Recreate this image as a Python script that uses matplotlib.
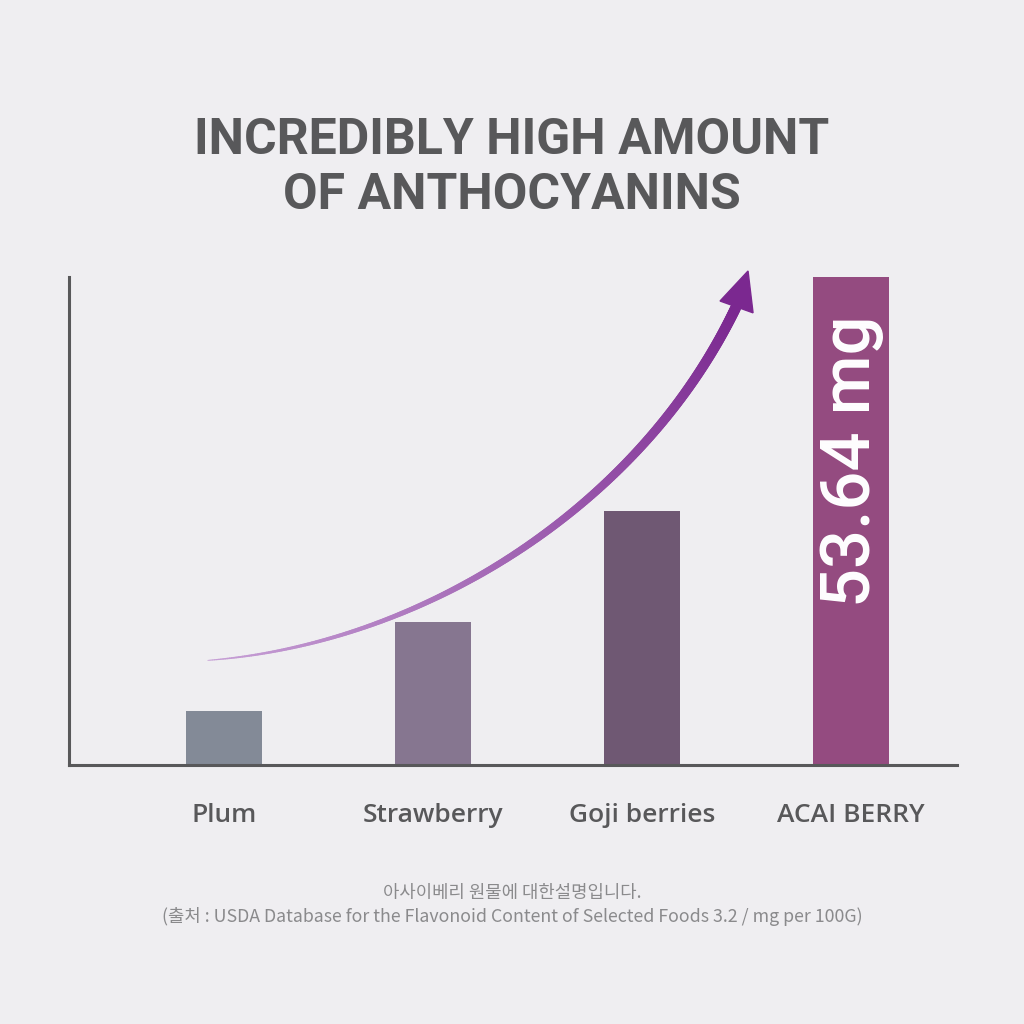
import numpy as np
import matplotlib.pyplot as plt
from matplotlib import font_manager
from matplotlib.collections import LineCollection
from matplotlib.patches import Polygon
from matplotlib.colors import to_rgb

foods = ['Plum', 'Strawberry', 'Goji berries', 'ACAI BERRY']
anthocyanins = [5.9, 15.7, 27.9, 53.64]
bar_colors = ['#838a97', '#867690', '#6f5873', '#944b80']
value_label = '53.64 mg'
title = 'INCREDIBLY HIGH AMOUNT\nOF ANTHOCYANINS'
note_ko = '아사이베리 원물에 대한설명입니다.'
note_src = '(출처 : USDA Database for the Flavonoid Content of Selected Foods 3.2 / mg per 100G)'

# growth arrow, in data units (x = bar index, y = mg)
arrow_x = [-0.081, 0.364, 0.842, 1.321, 1.751, 1.990, 2.215, 2.340, 2.445]
arrow_y = [11.63, 12.84, 16.45, 22.71, 29.40, 34.88, 40.81, 45.52, 50.46]
head_x = [2.507, 2.373, 2.531]
head_y = [54.3, 51.0, 49.7]

bg = '#efeef1'
grey = '#58585a'

names = {f.name for f in font_manager.fontManager.ttflist}
title_font = next(f for f in ['Liberation Sans Narrow', 'Roboto', 'DejaVu Sans'] if f in names)
label_font = next(f for f in ['Open Sans', 'Noto Sans', 'DejaVu Sans'] if f in names)
value_font = next(f for f in ['Roboto', 'Noto Sans', 'DejaVu Sans'] if f in names)

fig = plt.figure(figsize=(10.24, 10.24), dpi=100, facecolor=bg)
ax = fig.add_axes([0.0674, 0.2529, 0.8672, 0.4766])
ax.set_facecolor(bg)

x = np.arange(len(foods))
ax.bar(x, anthocyanins, width=0.36, color=bar_colors, zorder=2)
ax.set_xlim(-0.742, 3.507)
ax.set_ylim(0, 53.64)

ax.text(x[-1], 49.4, value_label, rotation=90, ha='center', va='top',
        color='white', fontsize=49.5, fontfamily=value_font, fontweight='medium', zorder=3)

# gradient arrow: parametric cubic fit through the read points, in screen space
disp = ax.transData.transform(np.column_stack([arrow_x, arrow_y]))
d = np.r_[0, np.cumsum(np.hypot(*np.diff(disp, axis=0).T))]
t = d / d[-1]
cx = np.polyfit(t, disp[:, 0], 3)
cy = np.polyfit(t, disp[:, 1], 3)
st = np.linspace(0, 1, 300)
pts = ax.transData.inverted().transform(np.column_stack([np.polyval(cx, st), np.polyval(cy, st)]))
segs = np.stack([pts[:-1], pts[1:]], axis=1)
f = np.linspace(0, 1, len(segs))
c0, c1 = np.array(to_rgb('#c7a0d6')), np.array(to_rgb('#7b2890'))
cols = [tuple(c0 + (c1 - c0) * v) for v in f]
widths = 0.6 + 7.2 * f ** 0.75
lc = LineCollection(segs, colors=cols, linewidths=widths, capstyle='round',
                    clip_on=False, zorder=4)
ax.add_collection(lc)
ax.add_patch(Polygon(np.column_stack([head_x, head_y]), closed=True,
                     color='#7b2890', clip_on=False, zorder=5))

for s in ['top', 'right']:
    ax.spines[s].set_visible(False)
for s in ['left', 'bottom']:
    ax.spines[s].set_color(grey)
    ax.spines[s].set_linewidth(2.2)
ax.set_yticks([])
ax.set_xticks(x)
ax.set_xticklabels(foods, fontsize=19, fontfamily=label_font, fontweight='semibold', color=grey)
ax.tick_params(axis='x', length=0, pad=27)

fig.text(0.5, 0.836, title, ha='center', va='center', fontsize=36,
         fontfamily=title_font, fontweight='bold', color=grey, linespacing=1.2)

note_fonts = ['Noto Sans CJK KR', 'DejaVu Sans']
fig.text(0.5, 1 - 893 / 1024, note_ko, ha='center', va='center', fontsize=12.8,
         family=note_fonts, fontweight='light', color='#8a8a8c')
fig.text(0.5, 1 - 917 / 1024, note_src, ha='center', va='center', fontsize=12.8,
         family=note_fonts, fontweight='light', color='#8a8a8c')

fig.savefig('out.png', dpi=100, facecolor=bg)
